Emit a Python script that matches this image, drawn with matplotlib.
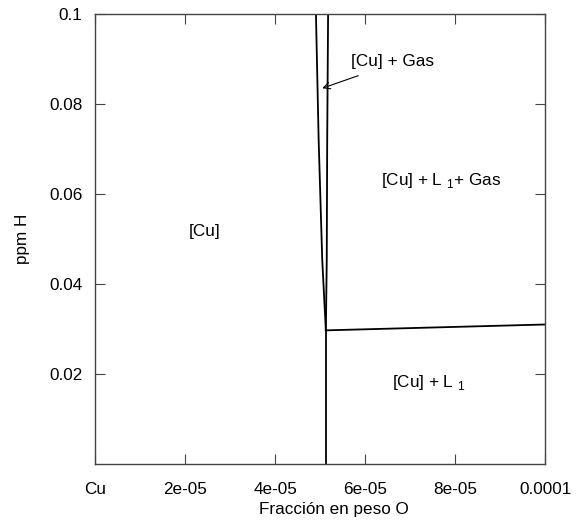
import matplotlib
matplotlib.use("Agg")
import matplotlib.pyplot as plt

plt.rcParams['font.family'] = ['Liberation Sans', 'DejaVu Sans']

# phase boundaries (fraccion en peso O, ppm H)
gas_left_x = [4.91e-05, 4.97e-05, 5.05e-05, 5.13e-05]
gas_left_y = [0.1, 0.072, 0.0453, 0.0297]
gas_right_x = [5.18e-05, 5.16e-05, 5.15e-05, 5.13e-05]
gas_right_y = [0.1, 0.072, 0.0453, 0.0297]
liq_x = [5.13e-05, 5.13e-05]
liq_y = [0.0, 0.0297]
l1_x = [5.13e-05, 1e-04]
l1_y = [0.0297, 0.0310]

xticks = [0, 2e-05, 4e-05, 6e-05, 8e-05, 1e-04]
xtick_labels = ["Cu", "2e-05", "4e-05", "6e-05", "8e-05", "0.0001"]
yticks = [0.02, 0.04, 0.06, 0.08, 0.1]
ytick_labels = ["0.02", "0.04", "0.06", "0.08", "0.1"]

fs = 12.3

fig = plt.figure(figsize=(5.81, 5.22), dpi=100)
fig.subplots_adjust(left=95/581, right=545/581, top=1-14/522, bottom=1-464/522)
ax = fig.add_subplot(111)

for xs, ys in [(gas_left_x, gas_left_y), (gas_right_x, gas_right_y),
               (liq_x, liq_y), (l1_x, l1_y)]:
    ax.plot(xs, ys, color='black', lw=1.3)

ax.set_xlim(0, 1e-04)
ax.set_ylim(0, 0.1)
ax.set_xticks(xticks)
ax.set_xticklabels(xtick_labels)
ax.set_yticks(yticks)
ax.set_yticklabels(ytick_labels)
ax.tick_params(direction='in', length=7, width=0.8, top=True, right=True,
               labelsize=fs, color='#444444')
ax.tick_params(axis='x', pad=13)
ax.tick_params(axis='y', pad=9)
for s in ax.spines.values():
    s.set_color('#444444')
    s.set_linewidth(1.0)

ax.set_xlabel("Fracción en peso O", fontsize=fs)
ax.xaxis.set_label_coords(0.53, -0.085)
ax.set_ylabel("ppm H", fontsize=fs, labelpad=14)

# region labels
ax.text(2.44e-05, 0.0516, "[Cu]", ha='center', va='center', fontsize=fs)
ax.text(7.7e-05, 0.0631, r"[Cu] + L $_{\mathregular{1}}$+ Gas", ha='center', va='center', fontsize=fs)
ax.text(7.42e-05, 0.018, r"[Cu] + L $_{\mathregular{1}}$", ha='center', va='center', fontsize=fs)
ax.text(6.62e-05, 0.0895, "[Cu] + Gas", ha='center', va='center', fontsize=fs)
ax.annotate("", xy=(5.05e-05, 0.0835), xytext=(5.85e-05, 0.0863),
            arrowprops=dict(arrowstyle='->', color='black', lw=0.8,
                            shrinkA=0, shrinkB=0, mutation_scale=12))

fig.savefig("out.png", dpi=100)
